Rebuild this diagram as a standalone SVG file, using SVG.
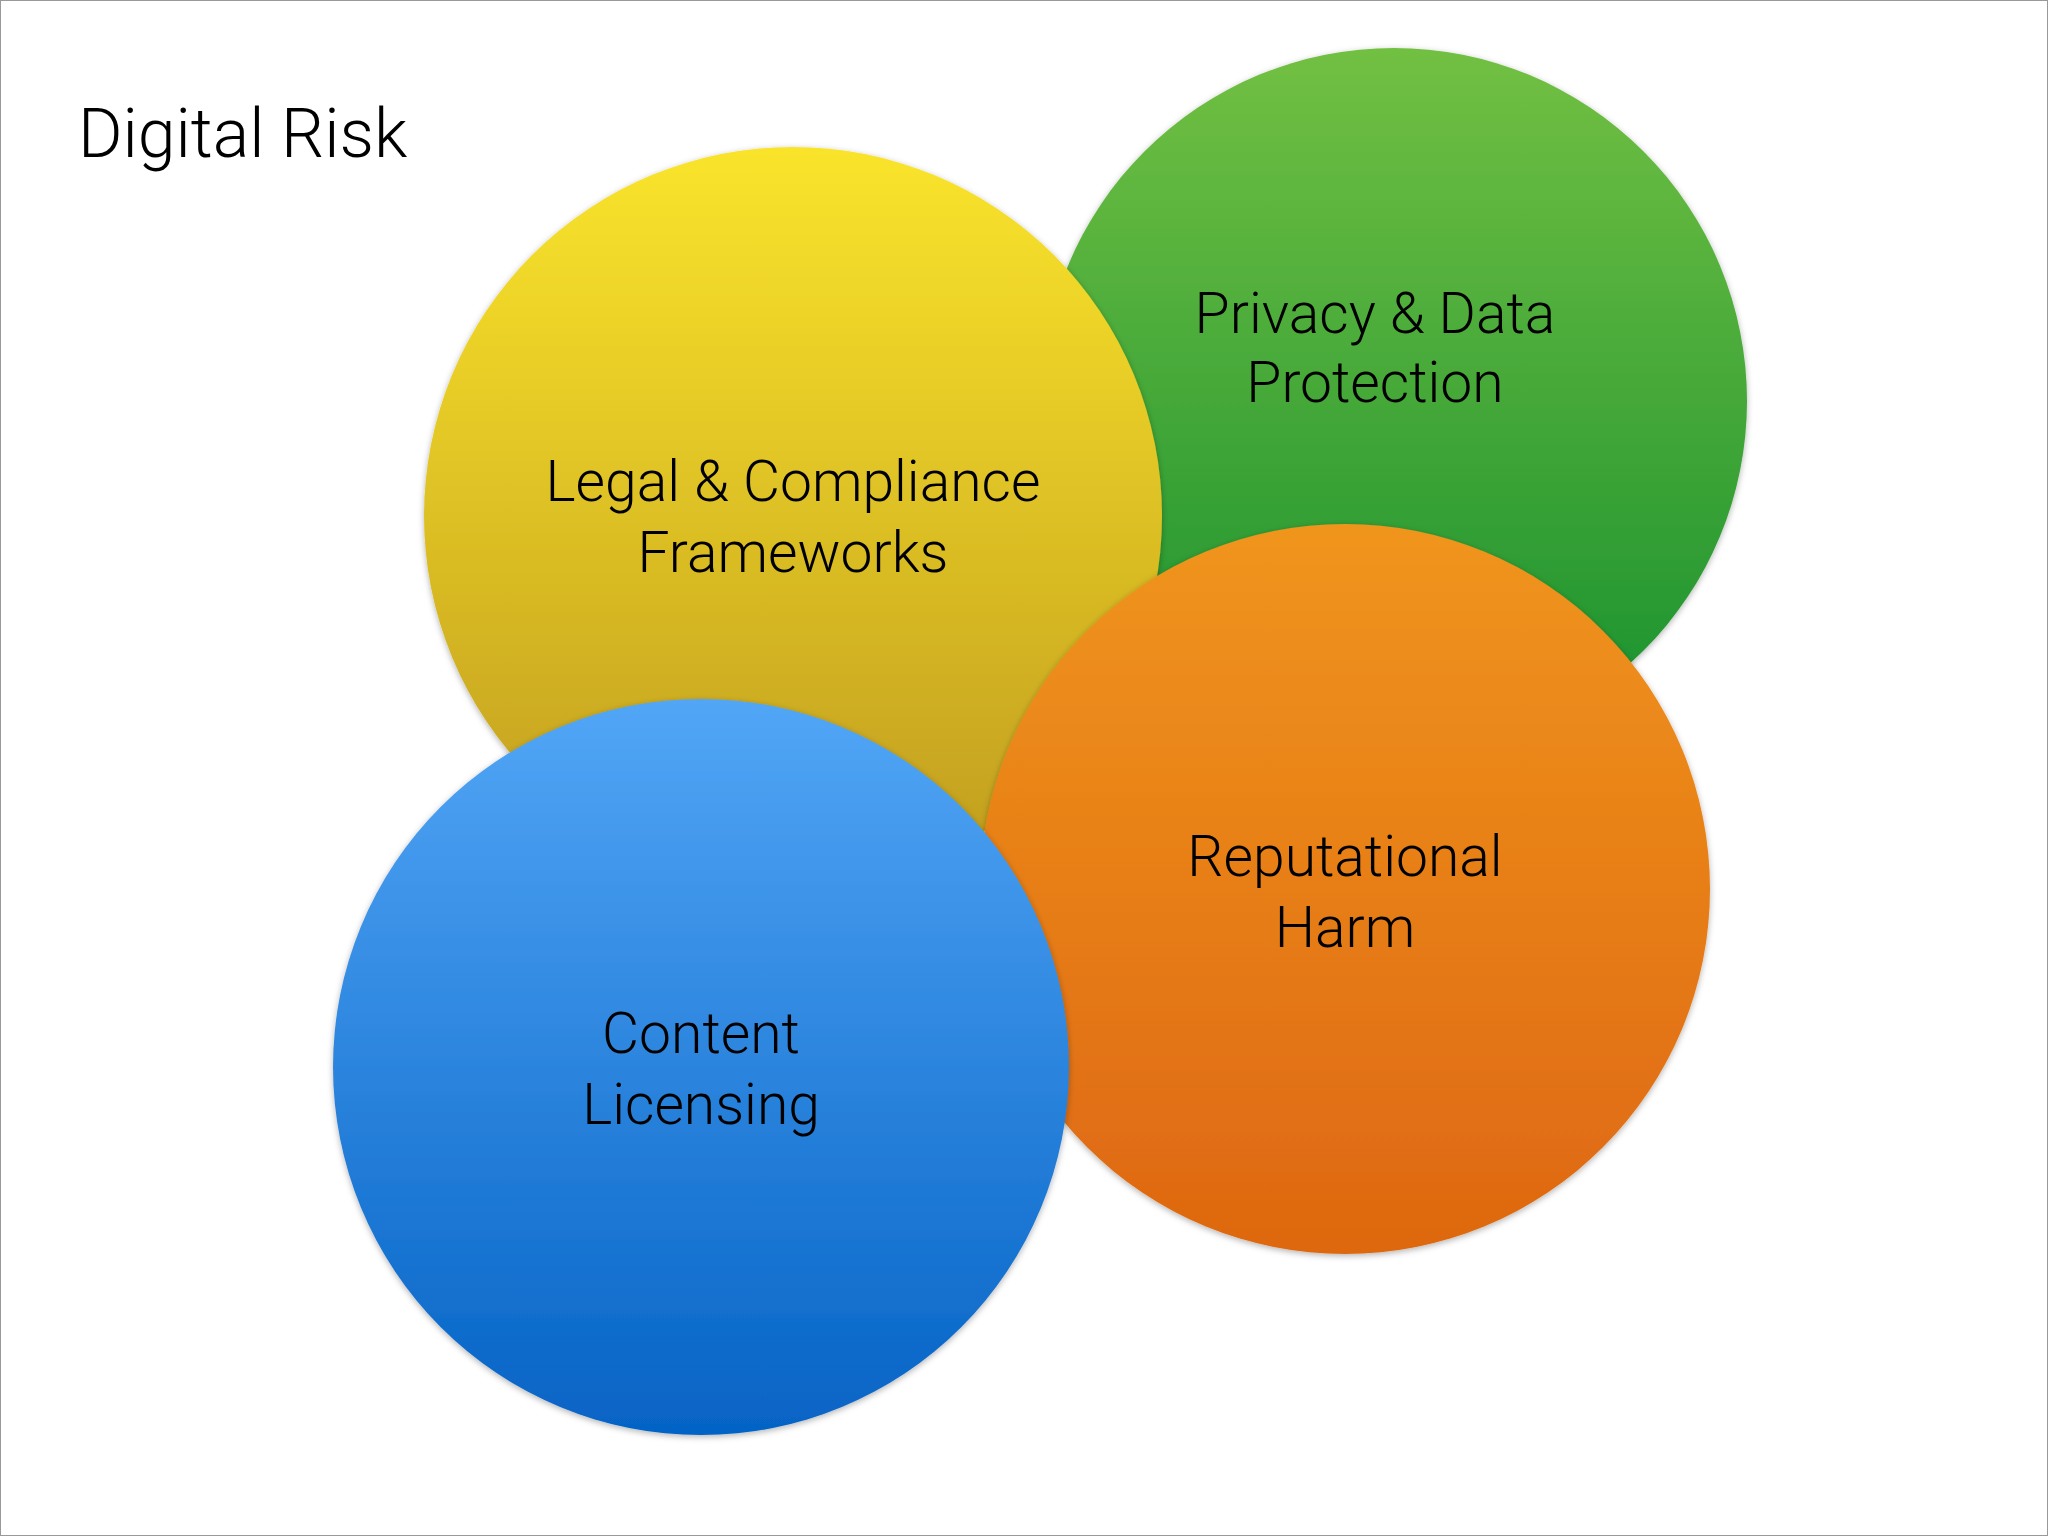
<svg xmlns="http://www.w3.org/2000/svg" width="2048" height="1536" viewBox="0 0 2048 1536">
<defs>
<linearGradient id="gG" x1="0" y1="0" x2="0" y2="1"><stop offset="0" stop-color="#72c043"/><stop offset="1" stop-color="#16902e"/></linearGradient>
<linearGradient id="gY" x1="0" y1="0" x2="0" y2="1"><stop offset="0" stop-color="#fae42b"/><stop offset="1" stop-color="#c09c1e"/></linearGradient>
<linearGradient id="gO" x1="0" y1="0" x2="0" y2="1"><stop offset="0" stop-color="#f0951e"/><stop offset="1" stop-color="#de6710"/></linearGradient>
<linearGradient id="gB" x1="0" y1="0" x2="0" y2="1"><stop offset="0" stop-color="#52a6f6"/><stop offset="1" stop-color="#0563c5"/></linearGradient>
<filter id="sh" x="-10%" y="-10%" width="120%" height="120%"><feDropShadow dx="0" dy="2" stdDeviation="3" flood-color="#000" flood-opacity="0.3"/></filter>
</defs>
<style>
text{font-family:Roboto,"Liberation Sans",sans-serif;font-weight:300;fill:#000}
.l{font-size:57px;text-anchor:middle}
</style>
<rect x="0.5" y="0.5" width="2047" height="1535" fill="#fff" stroke="#999"/>
<text x="78" y="157" font-size="68">Digital Risk</text>
<g id="privacy"><circle cx="1394" cy="401" r="353" fill="url(#gG)" filter="url(#sh)"/>
<text class="l" x="1375" y="333">Privacy &amp; Data</text><text class="l" x="1375" y="402">Protection</text></g>
<g id="legal"><circle cx="793" cy="516" r="369" fill="url(#gY)" filter="url(#sh)"/>
<text class="l" x="793" y="501">Legal &amp; Compliance</text><text class="l" x="793" y="572">Frameworks</text></g>
<g id="reputational"><circle cx="1345" cy="889" r="365" fill="url(#gO)" filter="url(#sh)"/>
<text class="l" x="1345" y="876">Reputational</text><text class="l" x="1345" y="947">Harm</text></g>
<g id="content"><circle cx="701" cy="1067" r="368" fill="url(#gB)" filter="url(#sh)"/>
<text class="l" x="701" y="1053">Content</text><text class="l" x="701" y="1124">Licensing</text></g>
<g id="connectors"/>
</svg>
